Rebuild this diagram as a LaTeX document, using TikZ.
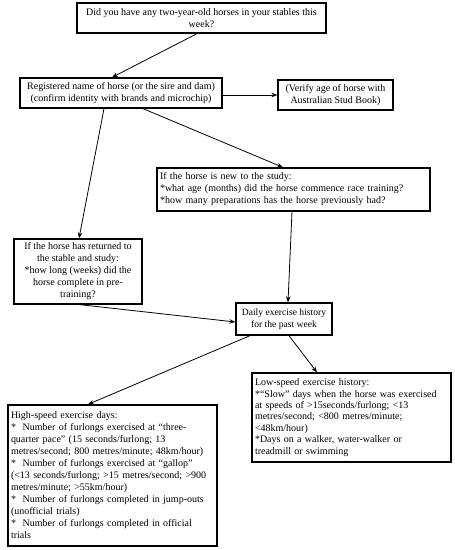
\documentclass[tikz,border=0pt]{standalone}
\usepackage{fontspec}
\setmainfont{Liberation Serif}
\usetikzlibrary{arrows.meta,calc}
\tikzset{
  box/.style={draw=black, line width=1.3pt, inner xsep=3pt, inner ysep=1pt, font=\fontsize{10}{12}\selectfont},
  arr/.style={line width=0.8pt, -{Stealth[length=6pt,width=4.5pt]}},
}
\begin{document}
\begin{tikzpicture}[x=1pt,y=-1pt]
\useasboundingbox (0,0) rectangle (455,550);
\node[box, align=center, minimum width=249pt, minimum height=30pt] (B1) at (201.5,18)
  {Did you have any two-year-old horses in your stables this\\week?};
\node[box, align=center, minimum width=202pt, minimum height=30pt] (B2) at (121,93)
  {Registered name of horse (or the sire and dam)\\(confirm identity with brands and microchip)};
\node[box, align=center, minimum width=115pt, minimum height=30pt] (B3) at (335.5,95)
  {(Verify age of horse with\\Australian Stud Book)};
\node[box, align=left, text width=267pt, minimum height=43pt] (B4) at (293.5,189.5)
  {If the horse is new to the study:\\{}*what age (months) did the horse commence race training?\\{}*how many preparations has the horse previously had?};
\node[box, align=center, minimum width=128pt, minimum height=65pt] (B5) at (78,271.5)
  {If the horse has returned to\\the stable and study:\\{}*how long (weeks) did the\\horse complete in pre-\\training?};
\node[box, align=center, minimum width=96pt, minimum height=32pt, font=\fontsize{9.6}{12}\selectfont] (B6) at (284,319)
  {Daily exercise history\\for the past week};
\node[box, align=left, text width=193pt, minimum height=89pt, font=\fontsize{10}{11.4}\selectfont] (B7) at (351.5,417.5)
  {Low-speed exercise history:\\{}*“Slow” days when the horse was exercised\\at speeds of >15seconds/furlong; <13\\metres/second; <800 metres/minute;\\<48km/hour)\\{}*Days on a walker, water-walker or\\treadmill or swimming};
\node[box, align=left, text width=203pt, minimum height=141pt] (B8) at (112.5,475.5)
  {High-speed exercise days:\\{}*~~Number of furlongs exercised at “three-\\quarter pace” (15 seconds/furlong; 13\\metres/second; 800 metres/minute; 48km/hour)\\{}*~~Number of furlongs exercised at “gallop”\\(<13 seconds/furlong; >15 metres/second; >900\\metres/minute; >55km/hour)\\{}*~~Number of furlongs completed in jump-outs\\(unofficial trials)\\{}*~~Number of furlongs completed in official\\trials};
\draw[arr] ([xshift=-4.5pt]B1.south) -- ([xshift=-9pt]B2.north);
\draw[arr] (B2.east |- B3.west) -- (B3.west);
\draw[arr] ([xshift=-17pt]B2.south) -- ([xshift=1pt]B5.north);
\draw[arr] ([xshift=22pt]B2.south) -- ([xshift=-10.5pt]B4.north);
\draw[arr] ([xshift=-1.5pt]B4.south) -- ([xshift=4pt]B6.north);
\draw[arr] ([xshift=2pt]B5.south) -- ([yshift=-3pt]B6.west);
\draw[arr] ([xshift=-34pt]B6.south) -- ([xshift=-24.5pt]B8.north);
\draw[arr] ([xshift=5pt]B6.south) -- ([xshift=-34.5pt]B7.north);
\end{tikzpicture}
\end{document}
